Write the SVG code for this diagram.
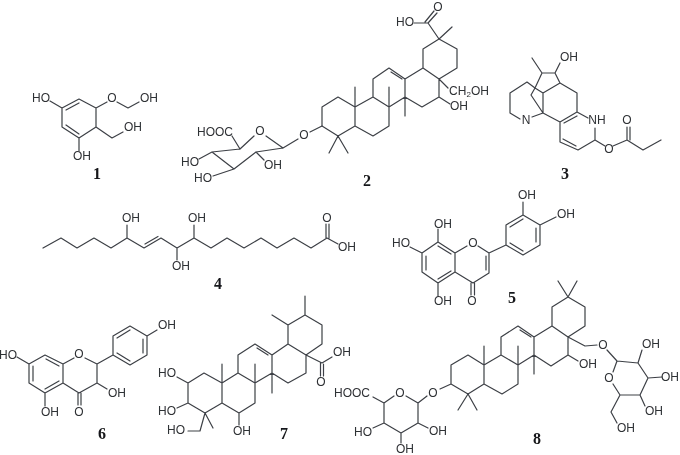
<svg xmlns="http://www.w3.org/2000/svg" width="680" height="455" viewBox="0 0 680 455">
<style>
.b{fill:none;stroke:#3d4046;stroke-width:1.2;stroke-linejoin:round;stroke-linecap:round}
text{font-family:"Liberation Sans",Arial,sans-serif;font-size:12px;fill:#2e3034;text-anchor:middle}
text.n{font-family:"Liberation Serif","Times New Roman",serif;font-size:16px;font-weight:bold;fill:#17181a}
g[id]{filter:url(#soft)}
</style>
<defs><filter id="soft" x="-5%" y="-5%" width="110%" height="110%"><feGaussianBlur stdDeviation="0.3"/></filter></defs>
<rect width="680" height="455" fill="#fff"/>
<g id="compound-1">
<path class="b" d="M62 108L79 99L96 108V127L79 138L62 127ZM66 110L79 103M66 125L79 134M62 108L50 101M96 108L107 102M117 102L128 108L139 102M96 127L112 138L123 132M79 138V151"/>
<text x="41" y="102">HO</text><text x="112" y="102">O</text><text x="149" y="102">OH</text><text x="133" y="131">OH</text><text x="82" y="160">OH</text>
<text class="n" x="97" y="179">1</text>
</g>
<g id="compound-2">
<path class="b" d="M240 149L254 136M266 136L283 148L256 152L234 169L212 152L240 149M256 152L264 160M212 152L199 159M234 169L213 176M240 149L232 136M283 148L298 139M310 132L322 126"/>
<path class="b" d="M322 126V107L338 97L355 107V126L338 136ZM355 107L373 97L389 107V126L373 136L355 126M373 97V79L389 68L405 79V97L389 107M391 72L402 79M405 79L423 68L439 79V97L422 107L405 97M423 68V49L439 39L457 49V68L439 79M355 107V87M389 107V87M405 97V116M338 136L329 153M338 136L348 153M439 39L428 23M439 39L452 27M428 23L437 13M425 22L434 11M428 23H414M439 79L448 88M439 97L450 104"/>
<text x="215" y="136">HOOC</text><text x="260" y="135">O</text><text x="273" y="169">OH</text><text x="190" y="166">HO</text><text x="203" y="182">HO</text><text x="304" y="139">O</text>
<text x="438" y="11">O</text><text x="405" y="26">HO</text><text x="469" y="95">CH<tspan font-size="8" dy="2">2</tspan><tspan dy="-2">OH</tspan></text><text x="459" y="110">OH</text>
<text class="n" x="367" y="186">2</text>
</g>
<g id="compound-3">
<path class="b" d="M532 58L542 73H555L560 83L543 93L535 88L542 73M555 73L560 63M560 83L577 93V112L560 122L543 113V93M577 112L588 118M564 123L577 116M560 122V142L578 150L595 140V128M563 139L576 146M595 140L605 146M613 146L627 140V127M630 140V127M627 140L643 150L661 140M535 88L531 95L543 113M510 93L527 82L535 88M510 93V113L520 119M532 117L543 113L560 122"/>
<text x="569" y="61">OH</text><text x="526" y="124">N</text><text x="597" y="124">NH</text><text x="609" y="153">O</text><text x="627" y="124">O</text>
<text class="n" x="565" y="179">3</text>
</g>
<g id="compound-4">
<path class="b" d="M43 248L61 238L77 248L94 238L111 248L127 238L144 248L161 238L177 248L194 238L211 248L227 238L244 248L261 238L277 248L294 238L311 248L327 238L338 244M145 244L158 236.500M127 238V225M194 238V225M177 248V260M326 238V224M329 238V224"/>
<text x="131" y="222">OH</text><text x="197" y="222">OH</text><text x="181" y="270">OH</text><text x="327" y="222">O</text><text x="347" y="251">OH</text>
<text class="n" x="218" y="289">4</text>
</g>
<g id="compound-5">
<path class="b" d="M438 242L455 253V272L438 283L422 272V253ZM426 256V270M438 279L451 271M438 246L451 254M455 253L467 246M478 246L489 253V273L473 283L455 272M486 256V270M471 283V295M474.500 283V295M438 242V229M422 253L410 247M438 283V296M489 253L506 245V225L523 215L540 225V245L523 255L506 245M510 243L523 251M510 227L523 219M536 228V242M523 215V202M540 225L556 217"/>
<text x="443" y="228">OH</text><text x="401" y="247">HO</text><text x="473" y="247">O</text><text x="443" y="305">OH</text><text x="472" y="305">O</text><text x="527" y="199">OH</text><text x="566" y="218">OH</text>
<text class="n" x="512" y="303">5</text>
</g>
<g id="compound-6">
<path class="b" d="M45 355L63 364V383L45 393L29 383V364ZM33 366V381M45 389L59 381M46 359L59 366M63 364L74 358M85 358L97 364V383L79 393L63 383M97 383L107 389M78 393V405M81 393V405M29 364L17 357M45 393V406M97 364L113 355V336L130 326L147 336V355L130 365L113 355M117 353L130 361M117 338L130 330M143 339V353M147 336L157 330"/>
<text x="8" y="359">HO</text><text x="79" y="358">O</text><text x="117" y="397">OH</text><text x="50" y="416">OH</text><text x="79" y="416">O</text><text x="167" y="329">OH</text>
<text class="n" x="102" y="439">6</text>
</g>
<g id="compound-7">
<path class="b" d="M188 383L204 373L222 383V403L205 413L188 403ZM222 383L238 373L255 383V403L239 413L222 403M238 373V355L255 344L272 355V373L255 383M257 348L268 355M272 355L288 344L306 355V373L288 383L272 373M288 344V325L305 315L322 325V344L306 355M305 315V296M288 325L272 315M222 383V364M255 383V364M272 373V393M205 413L213 428M205 413L200 431H188M239 413V425M188 383L177 377M188 403L177 408M306 355L322 363L332 357M320.500 363V376M323.500 364V376"/>
<text x="167" y="377">HO</text><text x="167" y="415">HO</text><text x="176" y="434">HO</text><text x="242" y="435">OH</text><text x="342" y="356">OH</text><text x="321" y="386">O</text>
<text class="n" x="284" y="439">7</text>
</g>
<g id="compound-8">
<path class="b" d="M451 384V365L468 355L484 365V384L468 394ZM484 365L501 355L518 365V384L502 394L484 384M501 355V337L518 326L534 337V355L518 365M520 330L531 337M534 337L552 326L568 337V355L551 366L534 355M552 326V307L568 297L585 307V326L568 337M568 297L558 281M568 297L577 281M484 365V346M518 365V346M534 355V374M468 394L458 410M468 394L477 410M568 355L578 361M568 337L585 346L597 345M607 350L617 361L638 363L648 378L640 395L620 395L613 384M613 372L617 361M638 363L642 350M648 378L662 377M640 395L645 406M620 395L611 412L617 423M451 384L440 389M427 396L418 403L406 396M394 396L384 403V423L401 433L418 423V403M384 403L373 397M384 423L373 428M418 423L428 428M401 433V443"/>
<text x="352" y="397">HOOC</text><text x="433" y="397">O</text><text x="400" y="397">O</text><text x="363" y="436">HO</text><text x="438" y="435">OH</text><text x="405" y="452.500">OH</text><text x="588" y="368">OH</text><text x="603" y="349">O</text><text x="609" y="382">O</text><text x="651" y="348">OH</text><text x="670" y="381">OH</text><text x="654" y="415">OH</text><text x="626" y="432">OH</text>
<text class="n" x="537" y="444">8</text>
</g>
</svg>
